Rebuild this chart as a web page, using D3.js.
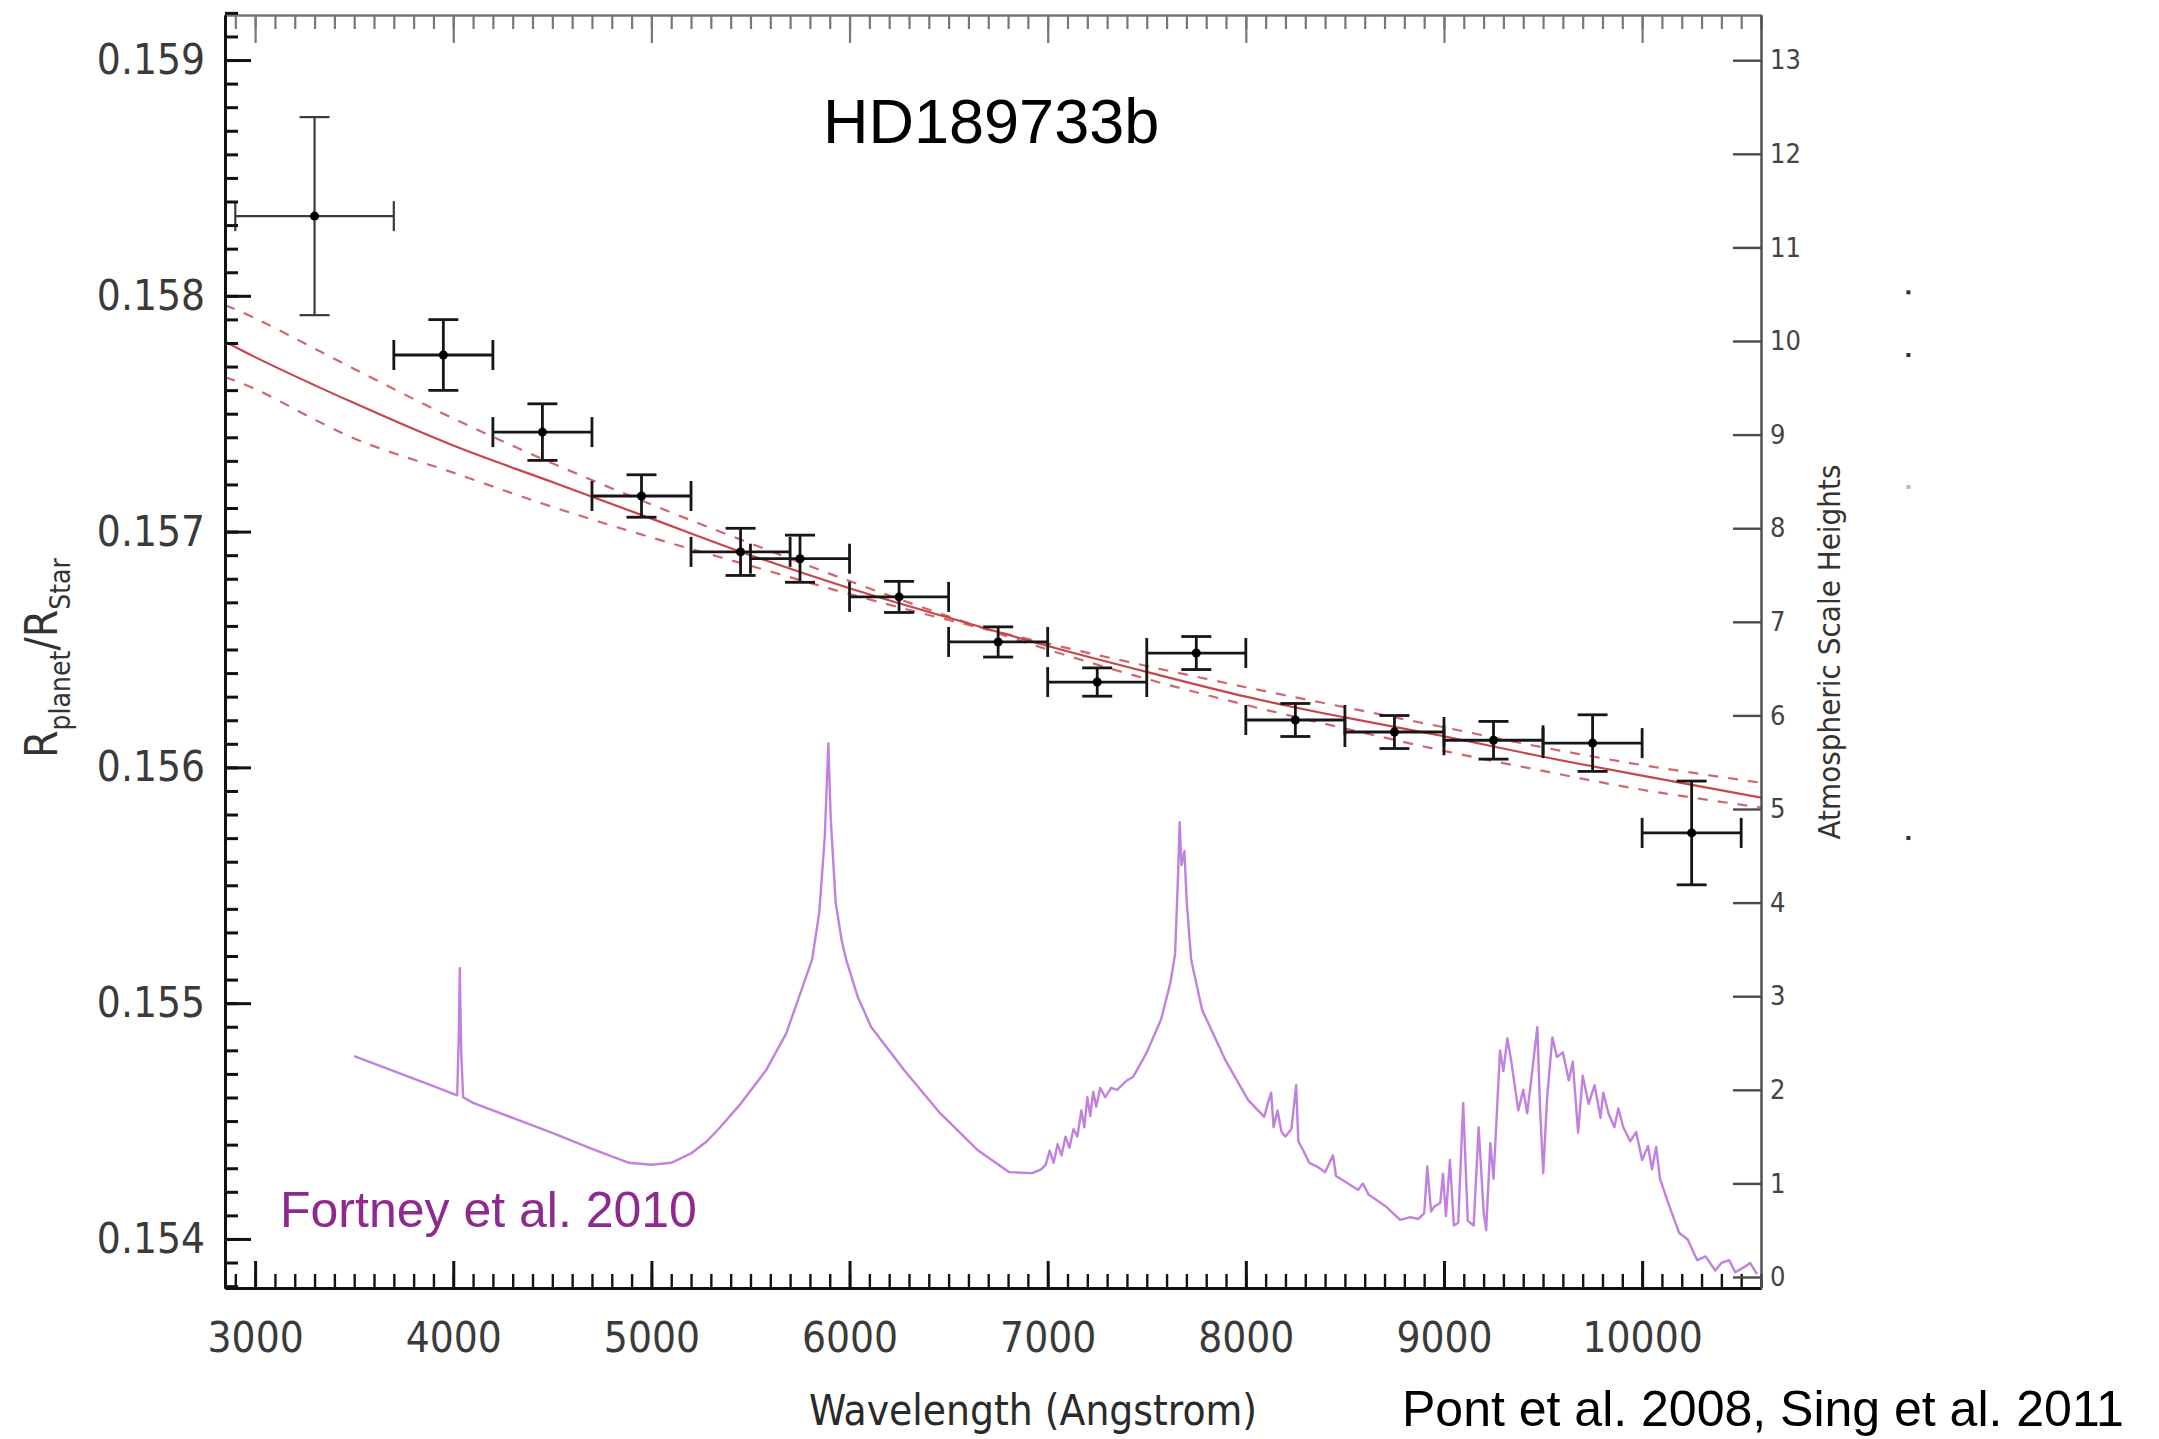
<!DOCTYPE html>
<html>
<head>
<meta charset="utf-8">
<script src="https://cdn.jsdelivr.net/npm/d3@7"></script>
<style>
  body { margin: 0; background: #fff; }
  svg { display: block; }
  .cond { font-family: "DejaVu Sans Condensed", "DejaVu Sans", sans-serif; font-stretch: condensed; }
  .arial { font-family: "Liberation Sans", Arial, sans-serif; }
</style>
</head>
<body>
<svg id="chart"></svg>
<script>
// data points (Pont et al. 2008 / Sing et al. 2011 bins)
const binCenter = [3300, 3950, 4450, 4950, 5450, 5750, 6250, 6750, 7250, 7750, 8250, 8750, 9250, 9750, 10250];
const binLo     = [2900, 3700, 4200, 4700, 5200, 5500, 6000, 6500, 7000, 7500, 8000, 8500, 9000, 9500, 10000];
const binHi     = [3700, 4200, 4700, 5200, 5700, 6000, 6500, 7000, 7500, 8000, 8500, 9000, 9500, 10000, 10500];
const ratio     = [0.158338, 0.157749, 0.157422, 0.157151, 0.156914, 0.156885, 0.156723, 0.156532,
                   0.156362, 0.156485, 0.156201, 0.156150, 0.156115, 0.156103, 0.155722];
const ratioErr  = [0.00042, 0.00015, 0.00012, 0.00009, 0.0001, 0.0001, 0.000066, 0.000064,
                   0.00006, 0.00007, 0.00007, 0.00007, 0.00008, 0.00012, 0.00022];

// rayleigh fit (solid) and the two dashed ones
const fitWave  = [2850, 3000, 3500, 4000, 4500, 5000, 5500, 6000, 6500, 7000, 7500, 8000, 8500, 9000, 9500, 10000, 10600];
const fitMid   = [0.157805, 0.157740, 0.157545, 0.157365, 0.157210, 0.157055, 0.156900, 0.156760, 0.156635,
                  0.156515, 0.156405, 0.156300, 0.156212, 0.156132, 0.156045, 0.155965, 0.155872];
const fitSteep = [0.157960, 0.157905, 0.157690, 0.157480, 0.157290, 0.157115, 0.156950, 0.156790, 0.156640,
                  0.156500, 0.156375, 0.156265, 0.156165, 0.156070, 0.155985, 0.155905, 0.155830];
const fitFlat  = [0.157655, 0.157605, 0.157395, 0.157250, 0.157105, 0.156975, 0.156855, 0.156735, 0.156625,
                  0.156525, 0.156430, 0.156340, 0.156255, 0.156170, 0.156085, 0.156010, 0.155935];

// Fortney et al. 2010 model, in scale heights (right axis)
const specWave = [3500, 3700, 3900, 4020, 4028, 4033, 4040, 4050, 4100, 4300, 4500, 4700, 4887, 5000, 5100, 5200,
  5280, 5347, 5450, 5579, 5680, 5740, 5811, 5847, 5875, 5893, 5905, 5930, 5960, 5983, 6040, 6109, 6276, 6457,
  6644, 6806, 6922, 6967, 6990, 7010, 7030, 7050, 7070, 7090, 7110, 7130, 7150, 7170, 7185, 7200, 7215, 7230,
  7245, 7265, 7290, 7320, 7350, 7400, 7432, 7500, 7572, 7620, 7643, 7658, 7666, 7675, 7690, 7702, 7724, 7780,
  7896, 8012, 8093, 8110, 8128, 8140, 8160, 8180, 8200, 8230, 8254, 8265, 8290, 8320, 8360, 8400, 8440, 8455,
  8500, 8567, 8590, 8620, 8709, 8779, 8830, 8870, 8900, 8916, 8935, 8950, 8981, 8995, 9010, 9030, 9050, 9072,
  9097, 9120, 9150, 9175, 9200, 9213, 9234, 9250, 9283, 9300, 9320, 9340, 9375, 9400, 9420, 9440, 9471, 9485,
  9501, 9520, 9547, 9570, 9600, 9630, 9650, 9677, 9700, 9730, 9760, 9790, 9804, 9830, 9860, 9880, 9905, 9940,
  9970, 10000, 10030, 10050, 10071, 10090, 10130, 10187, 10230, 10278, 10320, 10369, 10400, 10440, 10470,
  10510, 10545, 10580];
const specH = [2.36, 2.20, 2.04, 1.94, 2.6, 3.30, 2.4, 1.92, 1.86, 1.70, 1.54, 1.37, 1.22, 1.20, 1.22, 1.32,
  1.45, 1.60, 1.85, 2.21, 2.60, 2.96, 3.39, 3.89, 4.70, 5.70, 4.90, 4.00, 3.60, 3.39, 3.00, 2.67, 2.21, 1.75,
  1.36, 1.12, 1.11, 1.15, 1.20, 1.35, 1.22, 1.42, 1.30, 1.50, 1.38, 1.58, 1.50, 1.78, 1.60, 1.92, 1.72, 1.98,
  1.82, 2.02, 1.92, 2.02, 2.00, 2.10, 2.14, 2.40, 2.75, 3.15, 3.45, 4.30, 4.86, 4.40, 4.55, 4.00, 3.39, 2.85,
  2.32, 1.89, 1.71, 1.85, 1.97, 1.60, 1.78, 1.55, 1.50, 1.58, 2.05, 1.45, 1.35, 1.22, 1.18, 1.12, 1.30, 1.08,
  1.02, 0.93, 1.00, 0.88, 0.75, 0.61, 0.64, 0.62, 0.68, 1.18, 0.70, 0.75, 0.79, 1.10, 0.65, 1.25, 0.55, 0.58,
  1.86, 0.60, 0.55, 1.60, 0.70, 0.50, 1.43, 1.05, 2.42, 2.20, 2.55, 2.30, 1.78, 2.00, 1.75, 2.10, 2.67, 1.80,
  1.11, 1.90, 2.56, 2.35, 2.40, 2.10, 2.30, 1.54, 2.15, 1.85, 2.05, 1.70, 1.97, 1.75, 1.60, 1.80, 1.60, 1.45,
  1.55, 1.25, 1.40, 1.15, 1.39, 1.05, 0.80, 0.47, 0.40, 0.18, 0.22, 0.07, 0.15, 0.18, 0.05,
  0.10, 0.15, 0.03];

// leftover legend marks right of the frame
const strayWave = [11344, 11344, 11344, 11344];
const strayH = [10.52, 9.85, 8.44, 4.69];

// tick labels
const xTicks = [3000, 4000, 5000, 6000, 7000, 8000, 9000, 10000];
const yTicks = [0.154, 0.155, 0.156, 0.157, 0.158, 0.159];
const hTicks = [0, 1, 2, 3, 4, 5, 6, 7, 8, 9, 10, 11, 12, 13];

const width = 2159, height = 1439;
const plotL = 225, plotR = 1761, plotT = 15, plotB = 1288;

const svg = d3.select("#chart").attr("width", width).attr("height", height);

const x = d3.scaleLinear().domain([2848, 10600]).range([plotL, plotR]);
const y = d3.scaleLinear().domain([0.153792, 0.159191]).range([plotB, plotT]);
const yR = d3.scaleLinear().domain([-0.1175, 13.483]).range([plotB, plotT]);

// purple model spectrum
const spec = specWave.map((w, i) => ({w: w, h: specH[i]}));
svg.append("path")
    .datum(spec)
    .attr("fill", "none")
    .attr("stroke", "#b66bd9")
    .attr("stroke-width", 2.4)
    .attr("stroke-opacity", 0.85)
    .attr("stroke-linejoin", "round")
    .attr("d", d3.line().x(d => x(d.w)).y(d => yR(d.h)));

// fit lines
const fitLine = vals => d3.line()
    .curve(d3.curveCatmullRom)
    .x((d, i) => x(fitWave[i]))
    .y(d => y(d))(vals);

svg.append("path").attr("d", fitLine(fitSteep))
    .attr("fill", "none").attr("stroke", "#d0676a").attr("stroke-width", 2.2)
    .attr("stroke-dasharray", "10,10");
svg.append("path").attr("d", fitLine(fitFlat))
    .attr("fill", "none").attr("stroke", "#d0676a").attr("stroke-width", 2.2)
    .attr("stroke-dasharray", "10,10");
svg.append("path").attr("d", fitLine(fitMid))
    .attr("fill", "none").attr("stroke", "#c8454a").attr("stroke-width", 2.2);

// error bars
const pts = binCenter.map((w, i) => ({w: w, lo: binLo[i], hi: binHi[i], r: ratio[i], e: ratioErr[i], i: i}));
const cap = 15;
const eb = svg.append("g").selectAll("g")
    .data(pts)
    .enter()
    .append("g")
    .attr("stroke", d => d.i === 0 ? "#3a3a3a" : "#161616")
    .attr("stroke-width", d => d.i === 0 ? 2.2 : 2.8);

eb.append("line")
    .attr("x1", d => x(d.lo)).attr("x2", d => x(d.hi))
    .attr("y1", d => y(d.r)).attr("y2", d => y(d.r));
eb.append("line")
    .attr("x1", d => x(d.w)).attr("x2", d => x(d.w))
    .attr("y1", d => y(d.r - d.e)).attr("y2", d => y(d.r + d.e));
eb.append("line")
    .attr("x1", d => x(d.lo)).attr("x2", d => x(d.lo))
    .attr("y1", d => y(d.r) - cap).attr("y2", d => y(d.r) + cap);
eb.append("line")
    .attr("x1", d => x(d.hi)).attr("x2", d => x(d.hi))
    .attr("y1", d => y(d.r) - cap).attr("y2", d => y(d.r) + cap);
eb.append("line")
    .attr("x1", d => x(d.w) - cap).attr("x2", d => x(d.w) + cap)
    .attr("y1", d => y(d.r + d.e)).attr("y2", d => y(d.r + d.e));
eb.append("line")
    .attr("x1", d => x(d.w) - cap).attr("x2", d => x(d.w) + cap)
    .attr("y1", d => y(d.r - d.e)).attr("y2", d => y(d.r - d.e));
eb.append("circle")
    .attr("cx", d => x(d.w)).attr("cy", d => y(d.r))
    .attr("r", 4.5).attr("fill", "#000").attr("stroke", "none");

// stray marks
svg.append("g").selectAll("rect")
    .data(strayWave.map((w, i) => ({w: w, h: strayH[i]})))
    .enter()
    .append("rect")
    .attr("x", d => x(d.w) - 2).attr("y", d => yR(d.h) - 2)
    .attr("width", 4).attr("height", 4)
    .attr("fill", (d, i) => i === 2 ? "#bbb" : "#333");

// axes
function styleAxis(g, color, w) {
    g.select(".domain").attr("stroke", color).attr("stroke-width", w);
    g.selectAll(".tick line").attr("stroke", color).attr("stroke-width", w);
}

const xMinor = d3.range(29, 107).map(d => d * 100);
const yMinor = d3.range(1538, 1593).map(d => d / 10000);

// bottom
svg.append("g").attr("transform", `translate(0,${plotB})`)
    .call(d3.axisBottom(x).tickValues(xMinor).tickSizeInner(-14).tickSizeOuter(0).tickFormat(""))
    .call(g => styleAxis(g, "#111", 2.4));
svg.append("g").attr("transform", `translate(0,${plotB})`)
    .attr("class", "cond")
    .call(d3.axisBottom(x).tickValues(xTicks).tickSizeInner(-27).tickSizeOuter(0).tickPadding(34).tickFormat(d3.format("d")))
    .call(g => styleAxis(g, "#111", 3))
    .call(g => g.selectAll("text").attr("font-size", 42).attr("fill", "#3a3a3a"))
    .attr("font-family", null);

// top
svg.append("g").attr("transform", `translate(0,${plotT})`)
    .call(d3.axisTop(x).tickValues(xMinor).tickSizeInner(-14).tickSizeOuter(0).tickFormat(""))
    .call(g => styleAxis(g, "#777", 2.2));
svg.append("g").attr("transform", `translate(0,${plotT})`)
    .call(d3.axisTop(x).tickValues(xTicks).tickSizeInner(-28).tickSizeOuter(0).tickFormat(""))
    .call(g => styleAxis(g, "#777", 2.2));

// left
svg.append("g").attr("transform", `translate(${plotL},0)`)
    .call(d3.axisLeft(y).tickValues(yMinor).tickSizeInner(-13).tickSizeOuter(0).tickFormat(""))
    .call(g => styleAxis(g, "#111", 3));
svg.append("g").attr("transform", `translate(${plotL},0)`)
    .attr("class", "cond")
    .call(d3.axisLeft(y).tickValues(yTicks).tickSizeInner(-26).tickSizeOuter(0).tickPadding(20).tickFormat(d3.format(".3f")))
    .call(g => styleAxis(g, "#111", 3))
    .call(g => g.selectAll("text").attr("font-size", 42).attr("fill", "#3a3a3a"))
    .attr("font-family", null);

// right (scale heights)
svg.append("g").attr("transform", `translate(${plotR},0)`)
    .attr("class", "cond")
    .call(d3.axisRight(yR).tickValues(hTicks).tickSizeInner(-28).tickSizeOuter(0).tickPadding(9).tickFormat(d3.format("d")))
    .call(g => styleAxis(g, "#4a4a4a", 2.4))
    .call(g => g.selectAll("text").attr("font-size", 27).attr("fill", "#444"))
    .attr("font-family", null);

// axis titles
const yTitle = svg.append("text")
    .attr("class", "cond")
    .attr("transform", "translate(57,658) rotate(-90)")
    .attr("text-anchor", "middle")
    .attr("fill", "#333")
    .attr("font-size", 44);
yTitle.append("tspan").text("R");
yTitle.append("tspan").attr("font-size", 28).attr("dy", 13).text("planet");
yTitle.append("tspan").attr("dy", -13).text("/R");
yTitle.append("tspan").attr("font-size", 28).attr("dy", 13).text("Star");

svg.append("text")
    .attr("class", "cond")
    .attr("transform", "translate(1840,652) rotate(-90)")
    .attr("text-anchor", "middle")
    .attr("font-size", 31)
    .attr("fill", "#333")
    .text("Atmospheric Scale Heights");

svg.append("text")
    .attr("class", "cond")
    .attr("x", 1033).attr("y", 1425)
    .attr("text-anchor", "middle")
    .attr("font-size", 42)
    .attr("fill", "#2a2a2a")
    .text("Wavelength (Angstrom)");

// annotations
svg.append("text")
    .attr("class", "arial")
    .attr("x", 823).attr("y", 143)
    .attr("font-size", 63)
    .attr("fill", "#000")
    .text("HD189733b");

svg.append("text")
    .attr("class", "arial")
    .attr("x", 280).attr("y", 1227)
    .attr("font-size", 50)
    .attr("fill", "#8e2a8f")
    .text("Fortney et al. 2010");

svg.append("text")
    .attr("class", "arial")
    .attr("x", 1402).attr("y", 1426)
    .attr("font-size", 50)
    .attr("fill", "#000")
    .text("Pont et al. 2008, Sing et al. 2011");
</script>
</body>
</html>
